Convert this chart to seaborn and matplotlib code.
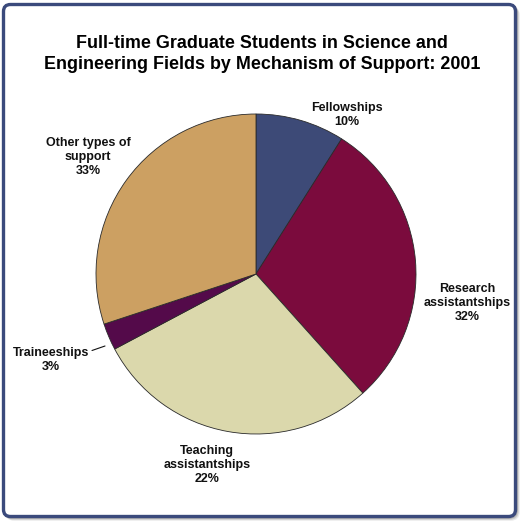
import matplotlib
matplotlib.use("Agg")
from matplotlib import pyplot as plt
from matplotlib.patches import FancyBboxPatch
import seaborn as sns

# slice sizes as drawn (degrees, in percent)
categories = ["Fellowships", "Research\nassistantships", "Teaching\nassistantships",
              "Traineeships", "Other types of\nsupport"]
shares = [9.0, 29.4, 28.9, 2.7, 30.1]
pct_labels = ["10%", "32%", "22%", "3%", "33%"]
colors = ["#3d4a77", "#7b0b3d", "#dbd8ac", "#540a4a", "#cca062"]

title = "Full-time Graduate Students in Science and\nEngineering Fields by Mechanism of Support: 2001"

sns.set_theme(style="white")
plt.rcParams['font.family'] = ['Liberation Sans', 'DejaVu Sans']

W = 525
fig = plt.figure(figsize=(5.25, 5.25), dpi=100)
ax = fig.add_axes([0, 0, 1, 1])

# frame with a soft shadow
for off, a in [(3, 0.12), (2, 0.2), (1, 0.3)]:
    ax.add_patch(FancyBboxPatch((4 + off, 9 - off), 511, 511,
                                boxstyle="round,pad=0,rounding_size=7",
                                fc="none", ec="#555555", lw=2.5, alpha=a))
ax.add_patch(FancyBboxPatch((3.5, 8.5), 512, 512,
                            boxstyle="round,pad=0,rounding_size=7",
                            fc="white", ec="#3b4a7c", lw=2.4))

ax.text(262, W - 54, title, ha='center', va='center', fontsize=12.9,
        fontweight='bold', color='black', linespacing=1.38)

ax.pie(shares, colors=colors, startangle=90, counterclock=False,
       center=(256, W - 274), radius=160,
       wedgeprops=dict(edgecolor='#2a2a2a', linewidth=0.6))

# label text positions (pixel coords from the top)
label_pos = [(347, 115), (467, 303), (207, 465), (51, 360), (88, 157)]
for name, pct, (x, y) in zip(categories, pct_labels, label_pos):
    ax.text(x, W - y, name + "\n" + pct, ha='center', va='center',
            fontsize=9.0, fontweight='bold', color='#111111', linespacing=1.27)

# leader for the small slice
ax.plot([92, 105], [W - 350.5, W - 346], color='#111111', lw=0.8)

ax.set_xlim(0, W)
ax.set_ylim(0, W)
ax.set_aspect('equal')
ax.axis('off')

fig.savefig("out.png", dpi=100)
